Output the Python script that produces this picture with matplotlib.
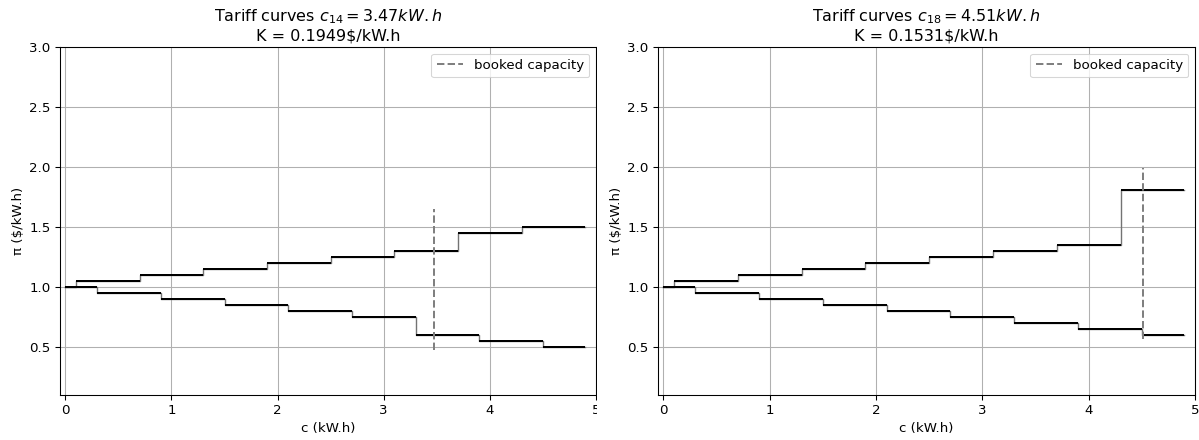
import matplotlib
matplotlib.use("Agg")
import matplotlib.pyplot as plt

# ---------------- data ----------------
upper_edges = [0.0, 0.1, 0.7, 1.3, 1.9, 2.5, 3.1, 3.7, 4.3, 4.9]
lower_edges = [0.0, 0.3, 0.9, 1.5, 2.1, 2.7, 3.3, 3.9, 4.5, 4.9]

left_upper = [1.00, 1.05, 1.10, 1.15, 1.20, 1.25, 1.30, 1.45, 1.50]
left_lower = [1.00, 0.95, 0.90, 0.85, 0.80, 0.75, 0.60, 0.55, 0.50]
left_capacity = 3.47
left_cap_range = [0.475, 1.65]
left_title = "Tariff curves $c_{14} = 3.47 kW.h$\nK = 0.1949\\$/kW.h"

right_upper = [1.00, 1.05, 1.10, 1.15, 1.20, 1.25, 1.30, 1.35, 1.81]
right_lower = [1.00, 0.95, 0.90, 0.85, 0.80, 0.75, 0.70, 0.65, 0.60]
right_capacity = 4.51
right_cap_range = [0.57, 1.99]
right_title = "Tariff curves $c_{18} = 4.51 kW.h$\nK = 0.1531\\$/kW.h"

xticks = [0, 1, 2, 3, 4, 5]
yticks = [0.5, 1.0, 1.5, 2.0, 2.5, 3.0]

# ---------------- figure ----------------
W, H = 1199, 440
fig = plt.figure(figsize=(W / 100, H / 100), dpi=100)
fig.patch.set_facecolor("white")
subs = fig.subfigures(1, 2, width_ratios=[597, 602], wspace=0)

FS = 9.6
TFS = 11.5
LW = 1.44


def draw_step(ax, edges, vals):
    xs = list(edges)
    ys = list(vals) + [vals[-1]]
    ax.step(xs, ys, where="post", color="0.45", lw=1.0, zorder=3)
    ax.hlines(vals, edges[:-1], edges[1:], color="black", lw=LW, zorder=4)


def panel(sf, wpx, left_px, right_px, up, lo, cap, cap_rng, title):
    sf.patch.set_facecolor("white")
    ax = sf.add_axes([left_px / wpx, (H - 395) / H, (right_px - left_px) / wpx, 348 / H])
    draw_step(ax, upper_edges, up)
    draw_step(ax, lower_edges, lo)
    ax.vlines(cap, cap_rng[0], cap_rng[1], colors="grey", linestyles=(0, (3.7, 1.6)),
              lw=LW, label="booked capacity", zorder=5)
    ax.set_xlim(-0.05, 5.0)
    ax.set_ylim(0.1, 3.0)
    ax.set_xticks(xticks)
    ax.set_yticks(yticks)
    ax.grid(True, color="#b0b0b0", lw=0.77)
    ax.set_axisbelow(True)
    ax.tick_params(labelsize=FS, length=3.4, width=0.77, pad=3.4)
    for s in ax.spines.values():
        s.set_linewidth(0.77)
    ax.set_xlabel("c (kW.h)", fontsize=FS, labelpad=3)
    ax.set_ylabel("π (\\$/kW.h)", fontsize=FS, labelpad=3)
    ax.set_title(title, fontsize=TFS, pad=5)
    leg = ax.legend(loc="upper right", fontsize=FS, handlelength=2.0, borderpad=0.4)
    leg.get_frame().set_linewidth(0.77)
    return ax


panel(subs[0], 597, 60, 596, left_upper, left_lower, left_capacity, left_cap_range, left_title)
panel(subs[1], 602, 61, 598, right_upper, right_lower, right_capacity, right_cap_range, right_title)

fig.savefig("out.png", dpi=100, facecolor="white")
